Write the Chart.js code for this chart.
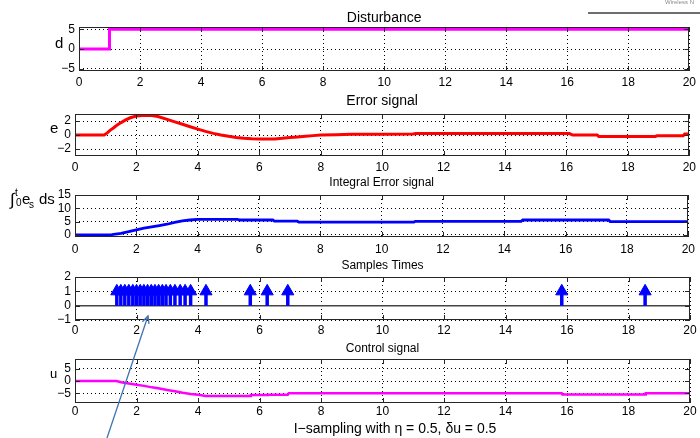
<!DOCTYPE html>
<html><head><meta charset="utf-8">
<script src="https://cdn.jsdelivr.net/npm/chart.js@4.4.1/dist/chart.umd.min.js"></script>
<style>
html,body{margin:0;padding:0;background:#fff;width:700px;height:438px;overflow:hidden}
canvas{position:absolute;left:0;top:0}
</style></head><body>
<canvas id="c1" width="700" height="438"></canvas>
<canvas id="c2" width="700" height="438"></canvas>
<canvas id="c3" width="700" height="438"></canvas>
<canvas id="c4" width="700" height="438"></canvas>
<canvas id="c5" width="700" height="438"></canvas>
<script>
// ---------- data ----------
const X_TICKS = [0, 2, 4, 6, 8, 10, 12, 14, 16, 18, 20];
const X_TICK_LABELS = ['0', '2', '4', '6', '8', '10', '12', '14', '16', '18', '20'];

// Disturbance
const DIST_T = [0, 1, 1, 20];
const DIST_V = [0, 0, 5, 5];
const DIST_TICKS = [-5, 0, 5];
const DIST_TICK_LABELS = ['\u22125', '0', '5'];

// Error signal
const ERR_T = [0, 0.95, 1.05, 1.15, 1.25, 1.35, 1.5, 1.65, 1.8, 2.0, 2.2, 2.35, 2.5, 2.7, 3.0, 3.25, 3.5, 3.75, 4.0, 4.25, 4.5, 4.75, 5.0, 5.25, 5.5, 5.75, 6.0, 6.25, 6.5, 6.75, 7.0, 7.25, 7.5, 7.75, 8.0, 8.5, 9.0, 10.0, 11.0, 11.1, 16.1, 16.2, 17.0, 17.05, 18.9, 18.95, 19.8, 19.85, 20];
const ERR_V = [0, 0, 0.3, 0.7, 1.0, 1.35, 1.77, 2.15, 2.46, 2.7, 2.8, 2.82, 2.78, 2.65, 2.23, 1.88, 1.53, 1.18, 0.84, 0.52, 0.23, 0.0, -0.19, -0.35, -0.47, -0.53, -0.56, -0.57, -0.56, -0.48, -0.37, -0.28, -0.19, -0.09, 0, 0.05, 0.1, 0.12, 0.14, 0.2, 0.2, 0.0, 0.0, -0.2, -0.2, -0.1, -0.1, 0.15, 0.15];
const ERR_TICKS = [-2, 0, 2];
const ERR_TICK_LABELS = ['\u22122', '0', '2'];

// Integral error signal
const INT_T = [0, 1.0, 1.2, 1.5, 1.75, 2.0, 2.25, 2.5, 2.75, 3.0, 3.25, 3.5, 3.75, 4.0, 5.3, 5.35, 6.45, 6.5, 7.25, 7.3, 11.05, 11.1, 14.55, 14.6, 17.4, 17.45, 20];
const INT_V = [0, 0, 0.1, 0.6, 1.2, 1.9, 2.5, 3.0, 3.5, 4.0, 4.7, 5.3, 5.6, 5.85, 5.85, 5.6, 5.6, 5.15, 5.15, 4.8, 4.8, 5.1, 5.1, 5.6, 5.6, 5.0, 5.0];
const INT_TICKS = [0, 5, 10, 15];
const INT_TICK_LABELS = ['0', '5', '10', '15'];

// Sample times
const SAMPLE_T = [1.36, 1.49, 1.62, 1.75, 1.88, 2.0, 2.12, 2.24, 2.36, 2.48, 2.6, 2.72, 2.84, 2.96, 3.1, 3.25, 3.42, 3.58, 3.76, 4.26, 5.70, 6.25, 6.92, 15.83, 18.54];
const SAMPLE_V = [1, 1, 1, 1, 1, 1, 1, 1, 1, 1, 1, 1, 1, 1, 1, 1, 1, 1, 1, 1, 1, 1, 1, 1, 1];
const BASE_T = [0, 20];
const BASE_V = [0, 0];
const SMP_TICKS = [-1, 0, 1, 2];
const SMP_TICK_LABELS = ['\u22121', '0', '1', '2'];

// Control signal
const U_T = [0, 1.35, 1.5, 1.75, 2.0, 2.25, 2.5, 2.75, 3.0, 3.25, 3.5, 3.76, 4.0, 4.26, 5.70, 5.72, 6.25, 6.27, 6.92, 6.95, 15.83, 15.85, 18.54, 18.56, 20];
const U_V = [0, 0, -0.5, -1.0, -1.5, -2.0, -2.6, -3.1, -3.7, -4.2, -4.8, -5.3, -5.6, -6.1, -6.1, -5.75, -5.75, -5.6, -5.6, -5.0, -5.0, -5.5, -5.5, -5.0, -5.0];
const U_TICKS = [-5, 0, 5];
const U_TICK_LABELS = ['\u22125', '0', '5'];

// ---------- helpers ----------
const FONT = '"Liberation Sans", Arial, Helvetica, sans-serif';
const XH = 24;
const pts = (T, V) => T.map((t, i) => ({ x: t, y: V[i] }));

function framePlugin(cfg) {
  return {
    id: 'frame' + cfg.name,
    afterDraw(chart) {
      const ctx = chart.ctx, a = chart.chartArea, sx = chart.scales.x, sy = chart.scales.y;
      ctx.save();
      ctx.strokeStyle = '#262626';
      ctx.lineWidth = 1;
      const TL = 5;
      ctx.beginPath();
      sx.ticks.forEach(t => {
        const p = Math.round(sx.getPixelForValue(t.value)) + 0.5;
        ctx.moveTo(p, a.bottom); ctx.lineTo(p, a.bottom - TL);
        ctx.moveTo(p, a.top); ctx.lineTo(p, a.top + TL);
      });
      sy.ticks.forEach(t => {
        const p = Math.round(sy.getPixelForValue(t.value)) + 0.5;
        ctx.moveTo(a.left, p); ctx.lineTo(a.left + TL, p);
        ctx.moveTo(a.right, p); ctx.lineTo(a.right - TL, p);
      });
      ctx.stroke();
      ctx.strokeRect(Math.round(a.left) + 0.5, Math.round(a.top) + 0.5, Math.round(a.width) - 1, Math.round(a.height) - 1);
      // title
      ctx.fillStyle = '#000';
      ctx.textAlign = 'center';
      ctx.textBaseline = 'alphabetic';
      ctx.font = cfg.titleSize + 'px ' + FONT;
      ctx.fillText(cfg.title, (a.left + a.right) / 2, cfg.titleY);
      // y label pieces
      ctx.textAlign = 'left';
      cfg.ylabel.forEach(p => {
        ctx.font = p[3] + 'px ' + FONT;
        ctx.fillText(p[0], p[1], p[2]);
      });
      if (cfg.xlabel) {
        ctx.textAlign = 'center';
        ctx.font = '14px ' + FONT;
        ctx.fillText(cfg.xlabel, 395, 433);
      }
      if (cfg.topDeco) {
        ctx.strokeStyle = '#6e6e6e';
        ctx.lineWidth = 2;
        ctx.beginPath(); ctx.moveTo(588, 13); ctx.lineTo(700, 13); ctx.stroke();
        ctx.fillStyle = '#8a8a8a';
        ctx.textAlign = 'left';
        ctx.font = '6px ' + FONT;
        ctx.fillText('Wireless N', 665, 4);
      }
      if (cfg.arrow) {
        const x0 = 107, y0 = 438, x1 = 148, y1 = 316;
        ctx.strokeStyle = '#3f72b4';
        ctx.lineWidth = 1.3;
        ctx.beginPath(); ctx.moveTo(x0, y0); ctx.lineTo(x1, y1); ctx.stroke();
        const ang = Math.atan2(y0 - y1, x0 - x1), L = 8, w = 0.45;
        ctx.beginPath();
        ctx.moveTo(x1 + L * Math.cos(ang + w), y1 + L * Math.sin(ang + w));
        ctx.lineTo(x1, y1);
        ctx.lineTo(x1 + L * Math.cos(ang - w), y1 + L * Math.sin(ang - w));
        ctx.stroke();
      }
      ctx.restore();
    }
  };
}

function makeChart(id, box, datasets, yMin, yMax, yTicks, yLabels, xPad, cfg) {
  return new Chart(document.getElementById(id), {
    type: 'line',
    data: { datasets },
    options: {
      responsive: false,
      animation: false,
      devicePixelRatio: 1,
      layout: { padding: { left: 0, top: box.top, right: 700 - box.right, bottom: 438 - box.bottom - XH } },
      plugins: { legend: { display: false }, tooltip: { enabled: false }, title: { display: false } },
      elements: { point: { radius: 0 }, line: { tension: 0 } },
      scales: {
        x: {
          type: 'linear', min: 0, max: 20,
          afterBuildTicks: s => { s.ticks = X_TICKS.map(v => ({ value: v })); },
          afterFit: s => { s.height = XH; },
          grid: { color: '#000', lineWidth: 1, drawTicks: false },
          border: { display: false, dash: [1, 3] },
          ticks: { color: '#000', font: { family: FONT, size: 12 }, padding: xPad, maxRotation: 0, autoSkip: false,
                   callback: (v, i) => X_TICK_LABELS[i] }
        },
        y: {
          type: 'linear', min: yMin, max: yMax,
          afterBuildTicks: s => { s.ticks = yTicks.map(v => ({ value: v })); },
          afterFit: s => { s.width = box.left; },
          grid: { color: '#000', lineWidth: 1, drawTicks: false },
          border: { display: false, dash: [1, 3] },
          ticks: { color: '#000', font: { family: FONT, size: 12 }, padding: 4, autoSkip: false,
                   callback: (v, i) => yLabels[i] }
        }
      }
    },
    plugins: [framePlugin(cfg)]
  });
}

// 1. Disturbance
makeChart('c1', { left: 79, right: 693, top: 27, bottom: 71 },
  [{ data: pts(DIST_T, DIST_V), borderColor: '#ff00ff', borderWidth: 3 }],
  -5.6, 5.6, DIST_TICKS, DIST_TICK_LABELS, 4,
  { name: 1, title: 'Disturbance', titleSize: 14, titleY: 22, ylabel: [['d', 55, 48, 15]], topDeco: true });

// 2. Error signal
makeChart('c2', { left: 75, right: 690, top: 114, bottom: 156 },
  [{ data: pts(ERR_T, ERR_V), borderColor: '#ff0000', borderWidth: 3 }],
  -3, 3, ERR_TICKS, ERR_TICK_LABELS, 4,
  { name: 2, title: 'Error signal', titleSize: 14, titleY: 105, ylabel: [['e', 50, 133, 15]] });

// 3. Integral error
makeChart('c3', { left: 75, right: 690, top: 195, bottom: 237 },
  [{ data: pts(INT_T, INT_V), borderColor: '#0000ff', borderWidth: 2.8 }],
  -0.8, 15, INT_TICKS, INT_TICK_LABELS, 5,
  { name: 3, title: 'Integral Error signal', titleSize: 12, titleY: 186,
    ylabel: [['\u222B', 10, 205, 17], ['t', 15, 196, 10], ['0', 16, 206, 10], ['e', 22, 204, 15], ['s', 29, 208, 10], ['ds', 39, 204, 15]] });

// 4. Sample times
const stems = [];
SAMPLE_T.forEach((t, i) => { stems.push({ x: t, y: 0 }, { x: t, y: SAMPLE_V[i] }, { x: t, y: null }); });
makeChart('c4', { left: 75, right: 690, top: 277, bottom: 320 },
  [
    { data: pts(SAMPLE_T, SAMPLE_V), showLine: false, pointStyle: 'triangle', pointRadius: 7,
      pointBackgroundColor: '#0000ff', pointBorderColor: '#0000ff', pointBorderWidth: 1 },
    { data: stems, borderColor: '#0000ff', borderWidth: 3.5, spanGaps: false },
    { data: pts(BASE_T, BASE_V), borderColor: '#444', borderWidth: 1.5 }
  ],
  -1, 2, SMP_TICKS, SMP_TICK_LABELS, 3,
  { name: 4, title: 'Samples Times', titleSize: 12, titleY: 269, ylabel: [] });

// 5. Control signal
makeChart('c5', { left: 75, right: 690, top: 359, bottom: 403 },
  [{ data: pts(U_T, U_V), borderColor: '#ff00ff', borderWidth: 2.5 }],
  -9, 9, U_TICKS, U_TICK_LABELS, 1,
  { name: 5, title: 'Control signal', titleSize: 12, titleY: 351.5, ylabel: [['u', 50, 378, 13]],
    xlabel: 'I\u2212sampling with \u03B7 = 0.5, \u03B4u = 0.5', arrow: true });
</script>
</body></html>
